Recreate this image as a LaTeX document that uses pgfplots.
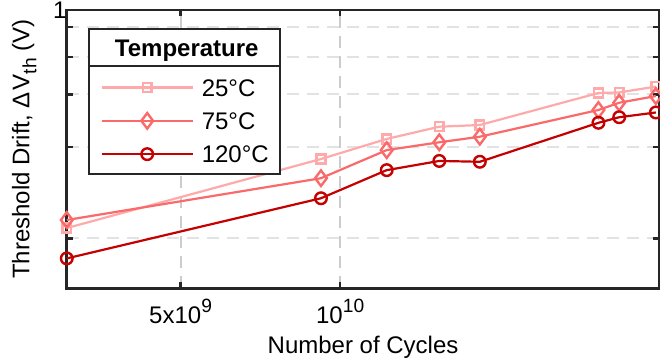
\documentclass[border=0pt]{standalone}
\usepackage{fontspec}
\setmainfont{Liberation Sans}
\usepackage{pgfplots}
\usepackage{pgfplotstable}
\pgfplotsset{compat=1.18}

\definecolor{c25}{RGB}{255,170,170}
\definecolor{c75}{RGB}{250,106,106}
\definecolor{c120}{RGB}{196,0,0}
\definecolor{axisgray}{RGB}{38,38,38}
\definecolor{gridh}{RGB}{226,226,226}
\definecolor{gridv}{RGB}{204,204,204}

% threshold drift (V) versus number of stress cycles
\pgfplotstableread{
cycles   t25    t75    t120
3.05e9   0.217  0.246  0.108
9.2e9    0.465  0.396  0.324
1.224e10 0.537  0.497  0.425
1.538e10 0.581  0.525  0.458
1.834e10 0.587  0.545  0.455
3.07e10  0.702  0.641  0.595
3.36e10  0.704  0.667  0.615
3.94e10  0.725  0.691  0.632
}\drift

\newcommand\lstrut{\rule[-4.03pt]{0pt}{16.66pt}}

\begin{document}
\begin{tikzpicture}[font=\fontsize{12}{14.4}\selectfont]
\begin{axis}[
  name=ax,
  scale only axis,
  width=296.3pt, height=139.25pt,
  xmode=log, log basis x=10,
  xmin=3.05e9, xmax=4e10,
  ymin=0, ymax=1,
  xtick={5e9,1e10},
  xticklabels={5x10\raisebox{5.65pt}{\fontsize{9.6}{10}\selectfont 9},
               10\raisebox{5.65pt}{\fontsize{9.6}{10}\selectfont 10}},
  ytick={0.180,0.508,0.697,0.832,0.939,1},
  yticklabels={,,,,,1},
  xminorticks=false, yminorticks=false,
  tick align=inside,
  major tick length=3pt,
  tick style={axisgray, line width=1.2pt},
  axis line style={axisgray, line width=1.4pt},
  grid=major,
  x grid style={gridv, line width=1pt, dash pattern=on 6pt off 4pt},
  y grid style={gridh, line width=1pt, dash pattern=on 6pt off 4pt},
  xticklabel style={anchor=base, yshift=-17.75pt},
  yticklabel style={inner sep=0pt},
  xlabel={Number of Cycles},
  ylabel={Threshold Drift, Δ\kern1pt V\raisebox{-3.5pt}{\fontsize{9.6}{10}\selectfont th} (V)},
  xlabel style={at={(axis description cs:0.5,-0.2327)}, anchor=base},
  ylabel style={at={(axis description cs:-0.0631,0.5)}, anchor=base},
  clip=false,
  legend style={name=leg, at={(axis description cs:0.036,0.935)}, anchor=north west,
    draw=axisgray, line width=1pt, fill=white,
    inner xsep=5.75pt, inner ysep=1.5pt, column sep=4pt,
    cells={anchor=west}, nodes={inner sep=0pt, text depth={}}},
  legend image code/.code={\draw[mark repeat=2,mark phase=2,#1]
    plot coordinates {(0pt,0pt) (22.75pt,0pt) (45.5pt,0pt)};},
]
\addlegendimage{empty legend}
\addlegendentry{\makebox[0pt][c]{\hspace*{-16pt}\bfseries Temperature}\rule[-7.37pt]{0pt}{19.37pt}}

\addplot[c25, line width=1.1pt, mark=square, mark size=2.2pt,
  mark options={solid, fill=white, line width=1.2pt}] table[x=cycles, y=t25] {\drift};
\addlegendentry{25°C\lstrut}

\addplot[c75, line width=1.1pt, mark=diamond, mark size=3.9pt,
  mark options={solid, fill=white, line width=1.2pt}] table[x=cycles, y=t75] {\drift};
\addlegendentry{75°C\lstrut}

\addplot[c120, line width=1.1pt, mark=o, mark size=2.9pt,
  mark options={solid, fill=white, line width=1.2pt}] table[x=cycles, y=t120] {\drift};
\addlegendentry{120°C\lstrut}
\end{axis}

% rule under the legend title
\draw[axisgray, line width=1pt] ([yshift=-19pt]leg.north west) -- ([yshift=-19pt]leg.north east);

\pgfresetboundingbox
\path ([shift={(-33.35pt,-37.75pt)}]ax.south west) rectangle ([shift={(0.35pt,5pt)}]ax.north east);
\end{tikzpicture}
\end{document}
